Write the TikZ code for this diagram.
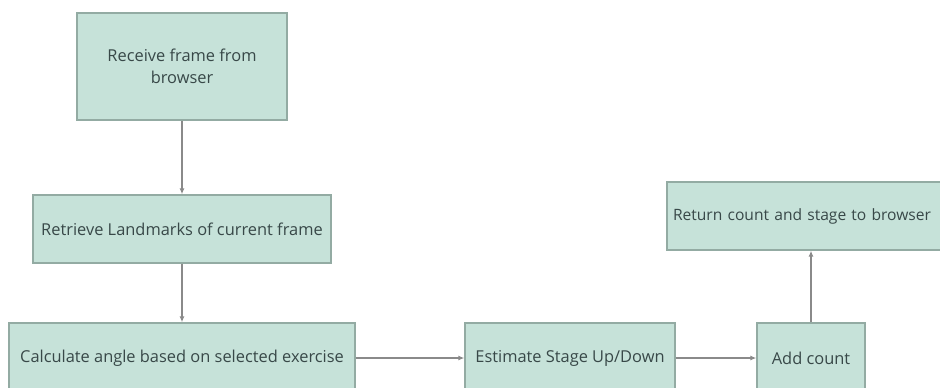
\documentclass[tikz,border=0pt]{standalone}
\usepackage{fontspec}
\setmainfont{Open Sans}
\usetikzlibrary{arrows.meta}
\definecolor{boxfill}{HTML}{C6E2D9}
\definecolor{boxline}{HTML}{93ABA3}
\definecolor{txt}{HTML}{384848}
\definecolor{arr}{HTML}{8A8A8A}
\tikzset{
  flowbox/.style={draw=boxline, line width=1.3pt, fill=boxfill, text=txt, font=\fontsize{16.4}{22}\selectfont, align=center, inner sep=0pt, anchor=center},
  flowarrow/.style={draw=arr, line width=1.2pt, -{Latex[length=6pt,width=5pt]}}
}
\begin{document}
\begin{tikzpicture}[x=1pt,y=-1pt]
\useasboundingbox (0,0) rectangle (940,388);
\node[flowbox, minimum width=210pt, minimum height=107pt] (b1) at (182,66.5) {Receive frame from\\browser};
\node[flowbox, minimum width=298pt, minimum height=68pt] (b2) at (182,229) {Retrieve Landmarks of current frame};
\node[flowbox, minimum width=346pt, minimum height=70pt] (b3) at (182,358) {Calculate angle based on selected exercise};
\node[flowbox, minimum width=210pt, minimum height=70pt] (b4) at (570,358) {Estimate Stage Up/Down};
\node[flowbox, minimum width=108pt, minimum height=70pt] (b5) at (811,358) {Add count};
\node[flowbox, minimum height=68pt, text width=400pt, align=left, font=\fontsize{15.6}{22}\selectfont] (b6) at (867,216) {\hspace*{6pt}Return count and stage to browser};
\draw[flowarrow] (b1) -- (b2);
\draw[flowarrow] (b2) -- (b3);
\draw[flowarrow] (b3) -- (b4);
\draw[flowarrow] (b4) -- (b5);
\draw[flowarrow] (b5) -- (b5 |- b6.south);
\end{tikzpicture}
\end{document}
